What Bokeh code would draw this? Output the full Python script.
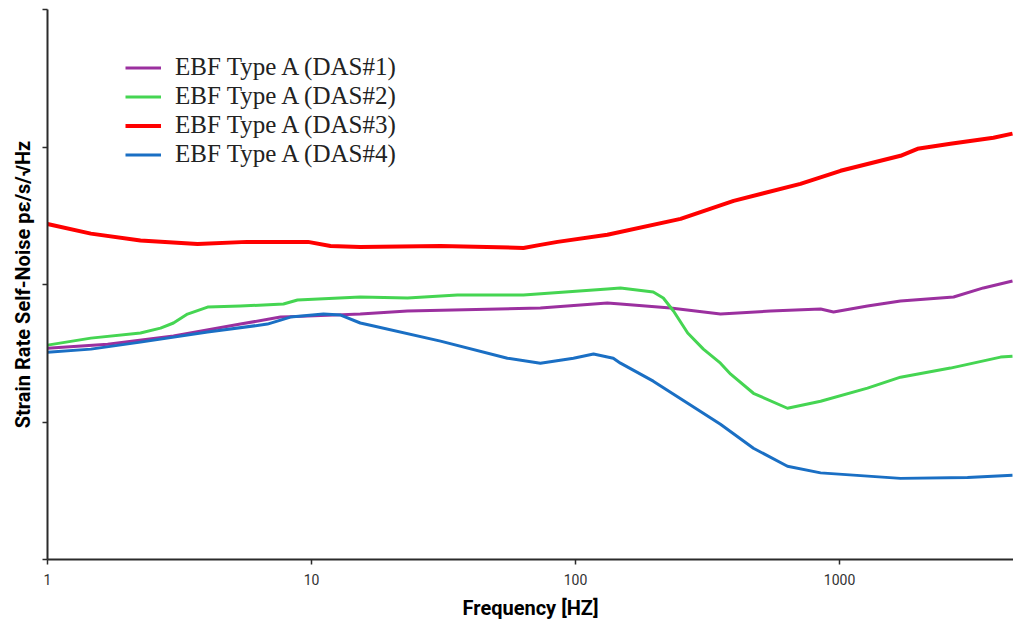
from bokeh.plotting import figure
from bokeh.models import Legend, LegendItem, FixedTicker, Range1d
from bokeh.embed import file_html
from bokeh.resources import INLINE

# ---- data (y in arbitrary units, 1 unit per y tick) ----
das3_f = [1, 1.46, 2.25, 3.7, 5.7, 9.7, 11.8, 15.3, 30.8, 63.5, 73.6, 85.5, 132, 250, 397, 711, 1009, 1702, 1974, 2631, 3828, 4520]
das3_v = [2.44, 2.37, 2.32, 2.295, 2.31, 2.31, 2.28, 2.273, 2.28, 2.266, 2.288, 2.31, 2.362, 2.477, 2.608, 2.732, 2.827, 2.936, 2.987, 3.023, 3.067, 3.097]

das2_f = [1, 1.46, 2.25, 2.68, 3.0, 3.39, 4.04, 5.38, 7.83, 8.85, 15.3, 23.1, 35.7, 63.5, 132, 148, 197, 215, 235, 266, 305, 354, 387, 472, 635, 848, 1276, 1702, 2631, 4074, 4520]
das2_v = [1.559, 1.61, 1.647, 1.683, 1.720, 1.785, 1.836, 1.843, 1.858, 1.887, 1.909, 1.902, 1.924, 1.924, 1.967, 1.975, 1.945, 1.902, 1.807, 1.647, 1.530, 1.428, 1.348, 1.209, 1.100, 1.151, 1.246, 1.326, 1.392, 1.472, 1.479]

das1_f = [1, 1.69, 3.0, 5.38, 7.63, 9.66, 15.3, 23.1, 73.6, 132, 148, 229, 354, 548, 848, 949, 1276, 1702, 2704, 3508, 4520]
das1_v = [1.537, 1.566, 1.625, 1.712, 1.763, 1.770, 1.785, 1.807, 1.829, 1.865, 1.858, 1.829, 1.785, 1.807, 1.822, 1.800, 1.843, 1.880, 1.909, 1.975, 2.026]

das4_f = [1, 1.46, 2.25, 4.04, 6.81, 8.32, 11.1, 12.9, 15.3, 17.2, 30.8, 55.2, 73.6, 98.2, 117, 139, 148, 197, 266, 354, 472, 635, 848, 1702, 3053, 4520]
das4_v = [1.508, 1.530, 1.581, 1.654, 1.712, 1.763, 1.785, 1.778, 1.720, 1.698, 1.588, 1.464, 1.428, 1.464, 1.494, 1.464, 1.428, 1.297, 1.137, 0.984, 0.809, 0.678, 0.630, 0.590, 0.597, 0.612]

labels = ["EBF Type A (DAS#1)", "EBF Type A (DAS#2)", "EBF Type A (DAS#3)", "EBF Type A (DAS#4)"]
x_ticks = [1, 10, 100, 1000]
y_ticks = [0, 1, 2, 3, 4]

p = figure(width=1013, height=622, x_axis_type="log",
           x_range=Range1d(1, 4560), y_range=Range1d(0, 4),
           output_backend="svg", toolbar_location=None,
           min_border_left=47, min_border_right=0, min_border_top=9, min_border_bottom=0)
p.outline_line_color = None
p.xgrid.grid_line_color = None
p.ygrid.grid_line_color = None
p.background_fill_color = "white"
p.border_fill_color = "white"

r1 = p.line(das1_f, das1_v, line_color="#9b309f", line_width=3, line_join="round")
r2 = p.line(das2_f, das2_v, line_color="#45d552", line_width=3, line_join="round")
r3 = p.line(das3_f, das3_v, line_color="#ff0000", line_width=4, line_join="round")
r4 = p.line(das4_f, das4_v, line_color="#1a6fc4", line_width=3, line_join="round")

# axes
p.xaxis.ticker = FixedTicker(ticks=x_ticks)
p.xaxis.major_label_overrides = {t: str(t) for t in x_ticks}
p.yaxis.ticker = FixedTicker(ticks=y_ticks)
p.yaxis.major_label_overrides = {t: "" for t in y_ticks}
p.yaxis.major_label_text_font_size = "0px"
for ax in (p.xaxis, p.yaxis):
    ax.axis_line_color = "#2b2b2b"
    ax.axis_line_width = 2
    ax.major_tick_line_color = "#2b2b2b"
    ax.major_tick_line_width = 1.5
    ax.major_tick_out = 5
    ax.major_tick_in = 0
    ax.minor_tick_line_color = None
    ax.axis_label_text_font = "Roboto"
    ax.axis_label_text_font_style = "bold"
    ax.axis_label_text_font_size = "20px"
    ax.axis_label_text_color = "black"

p.xaxis.major_label_text_font = "Roboto"
p.xaxis.major_label_text_font_size = "14px"
p.xaxis.major_label_text_color = "#333333"
p.xaxis.major_label_standoff = 9
p.xaxis.axis_label = "Frequency [HZ]"
p.xaxis.axis_label_standoff = 8
p.yaxis.axis_label = "Strain Rate Self-Noise pε/s/√Hz"
p.yaxis.axis_label_standoff = 8
p.yaxis.major_label_standoff = 0

legend = Legend(items=[LegendItem(label=labels[0], renderers=[r1]),
                       LegendItem(label=labels[1], renderers=[r2]),
                       LegendItem(label=labels[2], renderers=[r3]),
                       LegendItem(label=labels[3], renderers=[r4])],
                location=(78, 391), orientation="vertical")
legend.border_line_color = None
legend.background_fill_alpha = 0
legend.padding = 0
legend.margin = 0
legend.spacing = 1
legend.glyph_width = 36
legend.glyph_height = 25
legend.label_height = 25
legend.label_standoff = 14
legend.label_text_font = "Liberation Serif"
legend.label_text_font_size = "25px"
legend.label_text_color = "#222222"
p.add_layout(legend, "center")

open("out.html", "w").write(file_html(p, INLINE))
